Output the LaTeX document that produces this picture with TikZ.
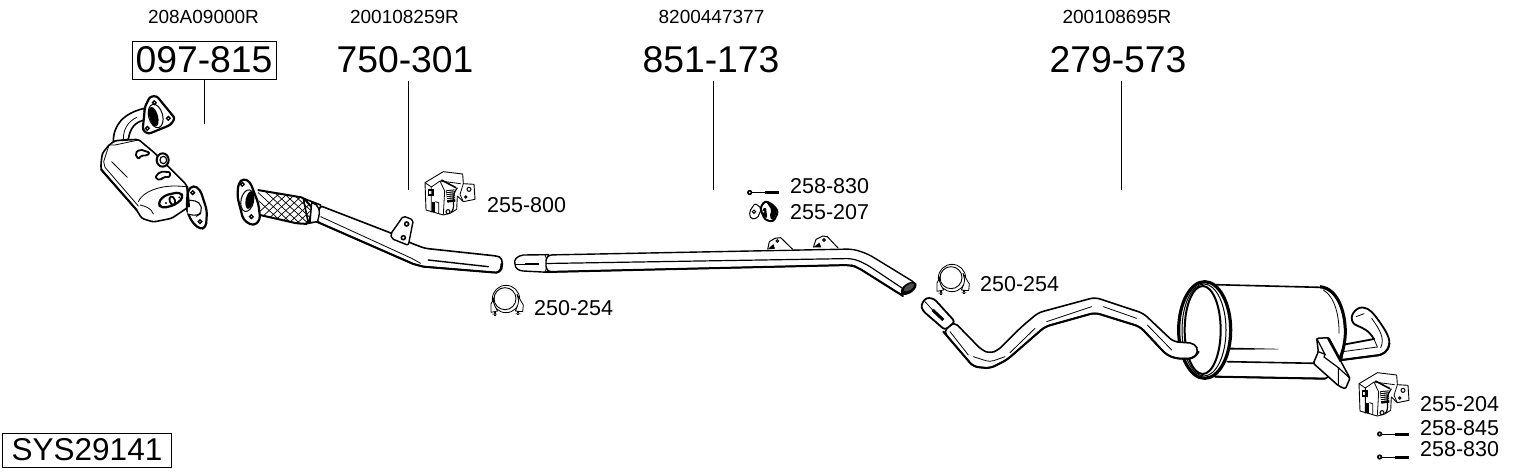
\documentclass[tikz,border=0pt]{standalone}
\usepackage{fontspec}
\setmainfont{Liberation Sans}
\tikzset{
  ol/.style={draw=black,fill=white,line width=1.3pt,line join=round},
  heavy/.style={draw=black,line width=2pt,line cap=round,line join=round},
  thin line/.style={draw=black,line width=0.8pt,line cap=round},
  leader/.style={draw=black,line width=1pt},
  big/.style={font=\fontsize{37.3}{38}\selectfont,inner sep=0pt},
  ref/.style={font=\fontsize{19}{19}\selectfont,inner sep=0pt},
  part/.style={font=\fontsize{21.5}{21.5}\selectfont,inner sep=0pt,anchor=west},
  zoomed/.style={scale=0.3333333},
  clampicon/.pic={
    \begin{scope}[zoomed]
      \draw[ol,line width=0.8pt] (0,0) circle (41);
      \draw[ol,line width=0.9pt] (-3,-1) circle (33);
      \draw[ol,line width=0.8pt] (-34,-8) -- (-45,15) -- (-45,40) -- (-25,36) -- (-33,22) -- (-38,8) -- cycle;
      \draw[ol,line width=0.8pt] (33,-14) -- (52,18) -- (50,38) -- (28,36) -- (35,20) -- (38,5) -- cycle;
      \fill[black] (-37,38) rectangle (-31,50);
      \fill[black] (33,36) rectangle (39,48);
      \fill[black!60] (-41,44) rectangle (-27,47) (29,42) rectangle (43,45);
    \end{scope}
  },
  bolticon/.pic={
    \begin{scope}[zoomed]
      \draw[line width=1pt] (0,0) -- (92,0);
      \fill[black] (5,0) circle (8);
      \fill[white] (5,0) circle (2.5);
      \fill[black] (50,-4.5) rectangle (93,4.5);
    \end{scope}
  },
  hangericon/.pic={
    \begin{scope}[zoomed]
      \draw[ol,line width=0.9pt] (3,35) -- (58,2) -- (116,9) -- (118,38) -- (150,40) -- (153,85) -- (118,92) -- (100,75) -- (98,115) -- (78,127) -- (58,132) -- (6,117) -- cycle;
      \draw[line width=0.8pt] (3,35) -- (22,48) -- (22,124);
      \draw[line width=0.8pt] (22,48) -- (48,30) -- (110,38);
      \draw[line width=0.8pt] (48,30) -- (62,60) -- (58,130);
      \draw[black,line width=1.6pt] (52,27) -- (96,50);
      \fill[black] (66,58) -- (92,55) -- (94,92) -- (70,95) -- cycle;
      \foreach \q in {62,68,74,80,86} \draw[white,line width=0.8pt] (68,\q) -- (94,\q-3);
      \draw[line width=1.2pt] (100,50) .. controls (75,85) and (100,95) .. (82,125);
      \draw[line width=0.8pt] (118,38) -- (108,70) -- (118,92);
      \draw[line width=1pt] (135,55) circle (6) (125,78) circle (3.5);
      \draw[line width=1.1pt] (13,57) rectangle (27,72);
      \fill[black] (24,92) rectangle (34,122);
      \draw[line width=0.8pt] (34,92) -- (44,95) -- (44,128);
      \draw[line width=1.1pt] (72,122) circle (6);
    \end{scope}
  }
}
\begin{document}
\begin{tikzpicture}[x=1pt,y=-1pt]
\useasboundingbox (0,0) rectangle (1530,474);
\fill[white] (0,0) rectangle (1530,474);

% ---------- labels
\node[ref] (r1) at (203.5,17) {208A09000R};
\node[ref] (r2) at (404.5,17) {200108259R};
\node[ref] (r3) at (711.5,17) {8200447377};
\node[ref] (r4) at (1117,17) {200108695R};
\node[big,draw=black,line width=1pt,minimum width=144pt,minimum height=38pt] (b1) at (204,60) {097-815};
\node[big] (b2) at (405,60) {750-301};
\node[big] (b3) at (711,60) {851-173};
\node[big] (b4) at (1118,60) {279-573};
\coordinate (e1) at (204.5,124);
\coordinate (e2) at (408,190);
\coordinate (e3) at (713,190);
\coordinate (e4) at (1121,190);
\coordinate (s2) at (408,81);
\coordinate (s3) at (713,81);
\coordinate (s4) at (1121,81);
\draw[leader] (b1.south -| e1) -- (e1);
\draw[leader] (s2) -- (e2);
\draw[leader] (s3) -- (e3);
\draw[leader] (s4) -- (e4);
\node[part] (p1) at (487,205) {255-800};
\node[part] (p2) at (534,308) {250-254};
\node[part] (p3) at (790,186) {258-830};
\node[part] (p4) at (790,212) {255-207};
\node[part] (p5) at (980,284) {250-254};
\node[part] (p6) at (1420,404) {255-204};
\node[part] (p7) at (1420,428) {258-845};
\node[part] (p8) at (1420,449) {258-830};
\node[draw=black,line width=1pt,font=\fontsize{31.5}{31.5}\selectfont,inner sep=0pt,minimum width=169pt,minimum height=34pt,xshift=-0.5pt] (sys) at (87.5,450) {SYS29141};

% ---------- catalytic converter
\begin{scope}[shift={(95,90)},zoomed]
  % elbow
  \draw[ol,line width=1.6pt] (55,155) .. controls (55,105) and (85,70) .. (148,55) -- (150,90) .. controls (120,95) and (105,115) .. (100,148) -- cycle;
  \draw[thin line] (85,148) .. controls (85,115) and (100,95) .. (125,82);
  % top flange
  \draw[ol,line width=2.2pt,rounded corners=2.5pt] (150,50) -- (165,20) -- (185,18) -- (240,85) -- (226,105) -- (160,132) -- (143,120) -- cycle;
  \draw[line width=1pt,fill=white,rotate around={15:(182,78)}] (182,78) ellipse (21 and 36);
  \fill[black,rotate around={15:(176,80)}] (176,80) ellipse (13 and 30);
  \draw[line width=1.4pt] (178,38) circle (5.5) (220,85) circle (5.5) (157,115) circle (5.5);
  % body
  \draw[ol,line width=1.6pt,rounded corners=2.5pt] (18,220) -- (22,190) -- (42,165) -- (60,152) -- (130,148) -- (180,190) -- (275,285) -- (282,350) -- (230,385) -- (175,396) -- (140,385) -- (125,360) -- (18,238) -- cycle;
  \draw[heavy] (18,238) -- (125,360);
  \draw[thin line] (42,165) -- (26,215) -- (30,232) -- (130,348);
  \draw[thin line] (50,215) -- (97,262);
  \draw[thin line] (42,165) -- (60,165) -- (130,150);
  \draw[thin line] (130,335) .. controls (140,310) and (190,280) .. (272,290);
  \draw[thin line] (135,345) .. controls (150,348) and (170,355) .. (175,372);
  % plate on the end cap
  \draw[ol,line width=2.2pt,rounded corners=4pt] (188,340) -- (208,316) -- (255,306) -- (266,322) -- (240,345) -- (200,355) -- cycle;
  \draw[line width=1.8pt,rotate around={20:(232,332)}] (232,332) ellipse (8 and 13);
  \fill[black] (213,339) circle (3.5) (253,322) circle (3);
  % small fittings
  \draw[ol,line width=1.8pt,rounded corners=2pt] (120,190) -- (135,178) -- (165,188) -- (155,198) -- (140,195) -- (130,208) -- cycle;
  \draw[ol,line width=2pt] (203,210) ellipse (18 and 20);
  \draw[line width=1.2pt] (205,210) ellipse (10 and 11);
  \draw[ol,line width=1.8pt,rounded corners=2pt] (180,262) -- (195,245) -- (226,246) -- (224,262) -- (206,260) -- (195,272) -- cycle;
  % right flange
  \draw[ol,line width=2.2pt,rounded corners=4pt] (278,302) -- (295,285) -- (316,300) -- (336,362) -- (333,412) -- (315,418) -- (290,395) -- (275,360) -- cycle;
  \draw[line width=1.4pt] (293,308) circle (5.5) (315,395) circle (5.5);
  \draw[line width=1.1pt,fill=white,rounded corners=5pt] (280,330) -- (315,335) -- (322,368) -- (305,378) -- (278,372);
  \draw[heavy] (277,290) -- (282,350);
\end{scope}

% ---------- front pipe, flexible section
\begin{scope}[shift={(90,80)},zoomed]
  \draw[ol,line width=1.6pt] (640,355) -- (692,375) -- (692,422) -- (655,430) -- cycle;
  \begin{scope}
    \clip[rounded corners=2pt] (503,330) -- (640,353) -- (668,385) -- (655,432) -- (620,430) -- (510,405) -- cycle;
    \foreach \k in {-40,-15,...,400} {
      \draw[line width=0.7pt] (500+\k,320) -- (500+\k+130,440);
      \draw[line width=0.7pt] (500+\k,440) -- (500+\k+130,320);
    }
  \end{scope}
  \draw[draw=black,line width=2pt,rounded corners=2pt] (503,330) -- (640,353) -- (668,385) -- (655,432) -- (620,430) -- (510,405);
  \draw[ol,line width=2.2pt,rounded corners=4pt] (445,310) -- (460,295) -- (480,305) -- (505,370) -- (511,420) -- (490,438) -- (460,420) -- (442,350) -- cycle;
  \draw[line width=1pt,fill=white,rotate around={-12:(472,362)}] (472,362) ellipse (19 and 33);
  \fill[black,rotate around={-12:(479,360)}] (479,360) ellipse (12 and 27);
  \draw[line width=1.4pt] (457,313) circle (5.5) (484,410) circle (5.5);
\end{scope}

% ---------- front pipe
\begin{scope}[shift={(300,160)},zoomed]
  \draw[ol,line width=1.6pt,rounded corners=3pt] (60,137) -- (270,218) -- (335,250) -- (375,265) -- (590,288) .. controls (610,295) and (610,330) .. (590,338) -- (370,320) -- (340,312) -- (50,185) -- cycle;
  \draw[heavy] (50,185) -- (340,312) -- (370,320) -- (590,338) .. controls (600,335) and (605,325) .. (604,312);
  \draw[thin line] (62,170) -- (335,295) -- (362,310);
  \draw[line width=1.4pt,line cap=round] (385,300) -- (565,320);
  \draw[ol,line width=1.4pt] (35,128) .. controls (55,132) and (65,150) .. (52,185) -- (30,188) -- cycle;
  \draw[ol,line width=1.4pt,rounded corners=2pt] (272,222) -- (310,168) -- (340,180) -- (325,256) -- (275,236) -- cycle;
  \draw[line width=1.6pt] (320,192) circle (6) (310,233) circle (6);
\end{scope}

% ---------- centre pipe
\begin{scope}[shift={(300,160)},zoomed]
  \draw[ol,line width=1.4pt] (745,284) -- (670,285) .. controls (650,288) and (640,300) .. (645,312) .. controls (645,325) and (655,332) .. (670,333) -- (745,337) -- cycle;
  \draw[line width=2.5pt] (675,312) -- (716,312);
  \draw[thin line] (648,312) -- (675,312);
  \draw[thin line] (735,285) -- (745,310) -- (735,336);
\end{scope}
\draw[ol,line width=1.4pt,rounded corners=6pt] (546,255) -- (853,249) -- (868,254) -- (917,284) -- (903,296) -- (857,267) -- (850,265) -- (546,272) -- cycle;
\draw[heavy,rounded corners=6pt] (903,296) -- (857,267) -- (850,265) -- (546,272);
\draw[line width=1.2pt,rounded corners=6pt] (546,263.5) -- (853,258.5) -- (866,264) -- (905,290);
\begin{scope}[shift={(730,170)},zoomed]
  \fill[black,rotate around={35:(536,355)}] (536,355) ellipse (27 and 15);
  \fill[black!70,rotate around={35:(537,352)}] (537,352) ellipse (18 and 8);
  \draw[ol,line width=1pt] (113,238) -- (118,215) -- (135,205) -- (152,203) -- (188,238);
  \fill[black] (113,238) -- (130,222) -- (135,236) -- cycle;
  \draw[line width=1pt] (142,213) circle (4);
  \draw[ol,line width=1pt] (250,232) -- (258,208) -- (278,198) -- (292,200) -- (325,235);
  \fill[black] (250,232) -- (268,218) -- (274,232) -- cycle;
  \draw[line width=1pt] (282,210) circle (4);
\end{scope}

% ---------- small parts
\pic at (506,299) {clampicon};
\pic at (952,278) {clampicon};
\pic at (424,171) {hangericon};
\pic at (1358,372) {hangericon};
\pic at (748,192.5) {bolticon};
\pic at (1378,434) {bolticon};
\pic at (1378,457) {bolticon};
% rubber mount 255-207
\begin{scope}[shift={(730,170)},zoomed]
  \draw[ol,line width=1pt,rounded corners=2pt] (58,125) -- (75,100) -- (95,115) -- (82,145) -- (62,147) -- cycle;
  \draw[line width=1pt] (72,125) circle (5);
  \draw[ol,line width=2pt,rounded corners=3pt] (90,115) -- (105,92) -- (130,105) -- (145,125) -- (130,155) -- (105,150) -- cycle;
  \fill[black,rounded corners=2pt] (108,95) -- (132,108) -- (142,125) -- (128,152) -- (118,140) -- (125,120) -- cycle;
  \fill[black,rounded corners=2pt] (95,118) -- (108,112) -- (112,145) -- (100,140) -- cycle;
  \fill[white] (100,125) circle (3);
\end{scope}

% ---------- rear silencer
\begin{scope}[shift={(1300,295)},zoomed]
  % tail pipe behind the body
  \draw[ol,line width=1.8pt] (125,150) -- (222,132) .. controls (205,105) and (190,100) .. (172,92) .. controls (150,85) and (148,55) .. (175,40) .. controls (195,32) and (212,45) .. (225,62) .. controls (250,95) and (270,125) .. (268,145) .. controls (265,170) and (250,180) .. (225,182) -- (125,195) -- cycle;
  \draw[heavy] (125,195) -- (225,182) .. controls (250,180) and (265,170) .. (268,145);
  \draw[thin line] (128,170) -- (232,156);
  \draw[thin line] (168,65) -- (192,56);
  \draw[thin line] (215,70) .. controls (240,105) and (255,130) .. (242,158);
  \draw[thin line] (222,132) -- (232,156);
\end{scope}
\begin{scope}[shift={(1170,270)},zoomed]
  % body and rear end
  \draw[ol,line width=1.6pt] (135,44) -- (450,52) .. controls (505,60) and (525,130) .. (525,190) .. controls (525,250) and (505,310) .. (465,326) -- (135,320) -- cycle;
  \draw[heavy] (135,320) -- (465,326);
  \draw[line width=3pt] (450,50) .. controls (505,55) and (527,130) .. (526,190) .. controls (525,220) and (518,250) .. (505,275);
  \draw[thin line] (460,60) .. controls (495,80) and (508,140) .. (507,190);
  \draw[line width=1.6pt] (170,275) -- (440,280);
  \fill[black] (180,233) -- (325,236.5) -- (325,238) -- (180,239) -- cycle;
  % front ring
  \draw[draw=black,fill=white,line width=3.2pt] (104,180) ellipse (78 and 145);
  \draw[draw=black,fill=white,line width=1pt] (102,180) ellipse (66 and 138);
  \draw[draw=black,fill=white,line width=2pt] (98,180) ellipse (54 and 132);
\end{scope}
\begin{scope}[shift={(1300,295)},zoomed]
  % tail bracket
  \draw[ol,line width=1.5pt,rounded corners=1.5pt] (50,130) -- (86,128) -- (115,185) -- (150,250) -- (136,282) -- (115,272) -- (40,205) -- (55,170) -- cycle;
  \draw[line width=1.2pt] (50,130) -- (75,178) -- (55,170);
  \draw[line width=1.2pt] (75,178) -- (72,186) -- (115,218) -- (115,272);
  \draw[line width=1.2pt] (115,218) -- (150,250);
  \draw[heavy,line width=2.6pt] (85,130) -- (122,198);
\end{scope}

% ---------- rear pipe
\begin{scope}[shift={(910,260)},zoomed]
  \draw[ol,line width=1.6pt,rounded corners=5pt] (132,185) -- (215,270) -- (240,280) -- (265,270) -- (335,200) -- (385,158) -- (555,112) -- (700,160) -- (790,245) -- (855,250) -- (866,275) -- (850,296) -- (800,296) -- (770,285) -- (690,200) -- (555,158) -- (405,200) -- (290,300) -- (240,325) -- (190,320) -- (100,215) -- cycle;
  \draw[heavy,rounded corners=5pt] (100,215) -- (190,320) -- (240,325) -- (290,300) -- (405,200) -- (555,158) -- (690,200) -- (770,285) -- (800,296) -- (850,296) -- (866,275);
  \draw[thin line,rounded corners=4pt] (120,215) -- (175,285);
  \draw[thin line,rounded corners=4pt] (190,290) -- (240,306) -- (285,290);
  \draw[thin line] (300,278) -- (375,205);
  \draw[thin line] (410,185) -- (545,140);
  \draw[thin line] (580,140) -- (680,175);
  \draw[thin line] (712,195) -- (785,270);
  % flared end
  \draw[ol,line width=1.8pt,rounded corners=3pt] (33,135) -- (48,113) -- (72,116) -- (135,185) -- (105,210) -- (38,152) -- cycle;
  \draw[line width=3pt] (68,150) -- (100,180);
  \draw[thin line] (45,125) -- (68,150);
\end{scope}
\end{tikzpicture}
\end{document}
